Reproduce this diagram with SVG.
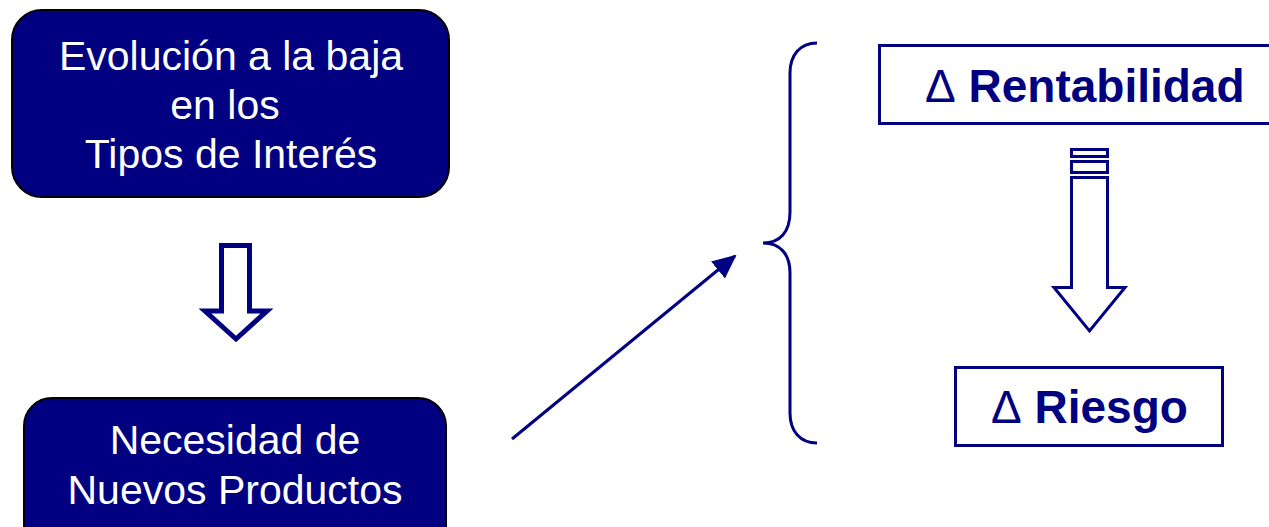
<svg xmlns="http://www.w3.org/2000/svg" width="1269" height="527" viewBox="0 0 1269 527">
  <style>
    .solid { fill: #000080; stroke: #000; stroke-width: 2; }
    .wtext { font-family: "Liberation Sans", Arial, sans-serif; font-size: 41px; fill: #fff; text-anchor: middle; }
    .frame { fill: #fff; stroke: #000080; stroke-width: 3; }
    .btext { font-family: "Liberation Sans", Arial, sans-serif; font-size: 46px; font-weight: bold; fill: #000080; }
    .delta { font-weight: normal; }
    .hollow { fill: #fff; stroke: #000080; stroke-linejoin: miter; }
    .line { fill: none; stroke: #000080; stroke-width: 3; }
  </style>
  <defs>
    <marker id="head" markerWidth="24" markerHeight="22" refX="22" refY="11" orient="auto" markerUnits="userSpaceOnUse" viewBox="0 0 24 22">
      <path d="M0,0 L24,11 L0,22 Z" fill="#000080"/>
    </marker>
  </defs>

  <rect width="1269" height="527" fill="#fff"/>

  <g id="node-evolucion">
    <rect class="solid" x="12" y="10" width="437" height="187" rx="30"/>
    <text class="wtext" x="231" y="70">Evolución a la baja</text>
    <text class="wtext" x="225" y="119">en los</text>
    <text class="wtext" x="231" y="168">Tipos de Interés</text>
  </g>

  <g id="node-necesidad">
    <rect class="solid" x="24" y="398" width="422" height="160" rx="28"/>
    <text class="wtext" x="235" y="454">Necesidad de</text>
    <text class="wtext" x="235" y="504">Nuevos Productos</text>
  </g>

  <g id="node-rentabilidad">
    <rect class="frame" x="879.5" y="45.5" width="400" height="78"/>
    <text class="btext" x="925" y="102"><tspan class="delta">Δ</tspan> Rentabilidad</text>
  </g>

  <g id="node-riesgo">
    <rect class="frame" x="955.5" y="367.5" width="267" height="78"/>
    <text class="btext" x="991" y="423"><tspan class="delta">Δ</tspan> Riesgo</text>
  </g>

  <g id="connectors">
    <!-- hollow block arrow between the two left boxes -->
    <polygon class="hollow" stroke-width="5" points="221.5,245.5 249.5,245.5 249.5,311 267,311 236,339 205,311 221.5,311"/>

    <!-- diagonal arrow towards the brace -->
    <line class="line" x1="512" y1="439" x2="735" y2="256" marker-end="url(#head)"/>

    <!-- curly brace grouping the two effects -->
    <path class="line" d="M817,43 C800,43 790,55 790,73 L790,212 C790,232 780,243 763,243 C780,243 790,254 790,273 L790,413 C790,431 800,443 817,443"/>

    <!-- hollow block arrow with stacked bars -->
    <g class="hollow" stroke-width="3">
      <rect x="1071.5" y="149.5" width="36" height="7"/>
      <rect x="1071.5" y="161.5" width="36" height="11"/>
      <polygon points="1071.5,177.5 1107.5,177.5 1107.5,287.5 1125,287.5 1089.5,331 1054,287.5 1071.5,287.5"/>
    </g>
  </g>
</svg>
